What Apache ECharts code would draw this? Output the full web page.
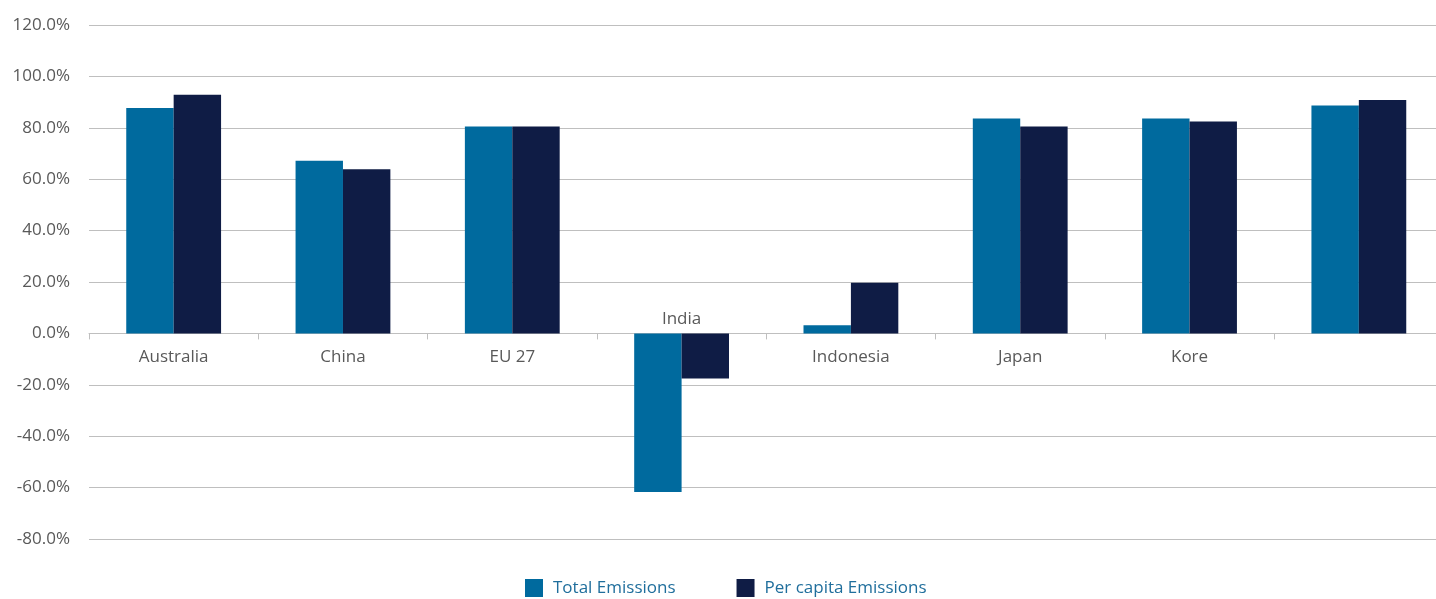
<!DOCTYPE html>
<html>
<head>
<meta charset="utf-8">
<script src="https://cdn.jsdelivr.net/npm/echarts@6/dist/echarts.min.js"></script>
<style>
html,body{margin:0;padding:0;background:#fff;}
#chart{width:1436px;height:599px;}
</style>
</head>
<body>
<div id="chart"></div>
<script>
const categories = ['Australia', 'China', 'EU 27', 'India', 'Indonesia', 'Japan', 'Kore', ''];
const totalEmissions = [87.7, 67.2, 80.5, -61.7, 3.2, 83.6, 83.6, 88.7];
const perCapitaEmissions = [92.9, 63.9, 80.5, -17.5, 19.7, 80.5, 82.5, 90.8];
const seriesNames = ['Total Emissions', 'Per capita Emissions'];
const yTicks = { min: -80, max: 120, interval: 20 };

const chart = echarts.init(document.getElementById('chart'), null, { renderer: 'canvas' });

const catData = categories.map(function (c) {
  if (c === 'India') {
    return { value: c, textStyle: { verticalAlign: 'bottom', padding: [0, 0, 21, 0] } };
  }
  return c;
});

// pixel offset of the zero line above the grid bottom
const gridHeight = 514;
const zeroOffset = -((0 - yTicks.min) / (yTicks.max - yTicks.min)) * gridHeight;

chart.setOption({
  animation: false,
  textStyle: { fontFamily: 'Open Sans' },
  grid: { left: 89, top: 25, width: 1354.5, height: gridHeight, containLabel: false, outerBoundsMode: 'none' },
  legend: {
    left: 525,
    top: 579,
    padding: 0,
    itemWidth: 18,
    itemHeight: 18,
    itemGap: 61,
    icon: 'rect',
    textStyle: { color: '#1F6E9C', fontSize: 17, fontFamily: 'Open Sans', padding: [9, 0, 0, 5] },
    data: seriesNames
  },
  xAxis: {
    type: 'category',
    data: catData,
    position: 'bottom',
    offset: zeroOffset,
    axisLine: { onZero: false, lineStyle: { color: '#BFBFBF', width: 1 } },
    axisTick: { show: true, length: 6, lineStyle: { color: '#BFBFBF' } },
    axisLabel: { color: '#595959', fontSize: 17, margin: 15, interval: 0 },
    splitLine: { show: false }
  },
  yAxis: {
    type: 'value',
    min: yTicks.min,
    max: yTicks.max,
    interval: yTicks.interval,
    axisLine: { show: false },
    axisTick: { show: false },
    axisLabel: {
      color: '#595959',
      fontSize: 17,
      margin: 19,
      formatter: function (v) { return v.toFixed(1) + '%'; }
    },
    splitLine: { lineStyle: { color: '#BFBFBF', width: 1 } }
  },
  series: [
    {
      name: seriesNames[0],
      type: 'bar',
      data: totalEmissions,
      barGap: '0%',
      barCategoryGap: '44%',
      itemStyle: { color: '#006A9E' }
    },
    {
      name: seriesNames[1],
      type: 'bar',
      data: perCapitaEmissions,
      barGap: '0%',
      barCategoryGap: '44%',
      itemStyle: { color: '#0F1C45' }
    }
  ]
});
</script>
</body>
</html>
